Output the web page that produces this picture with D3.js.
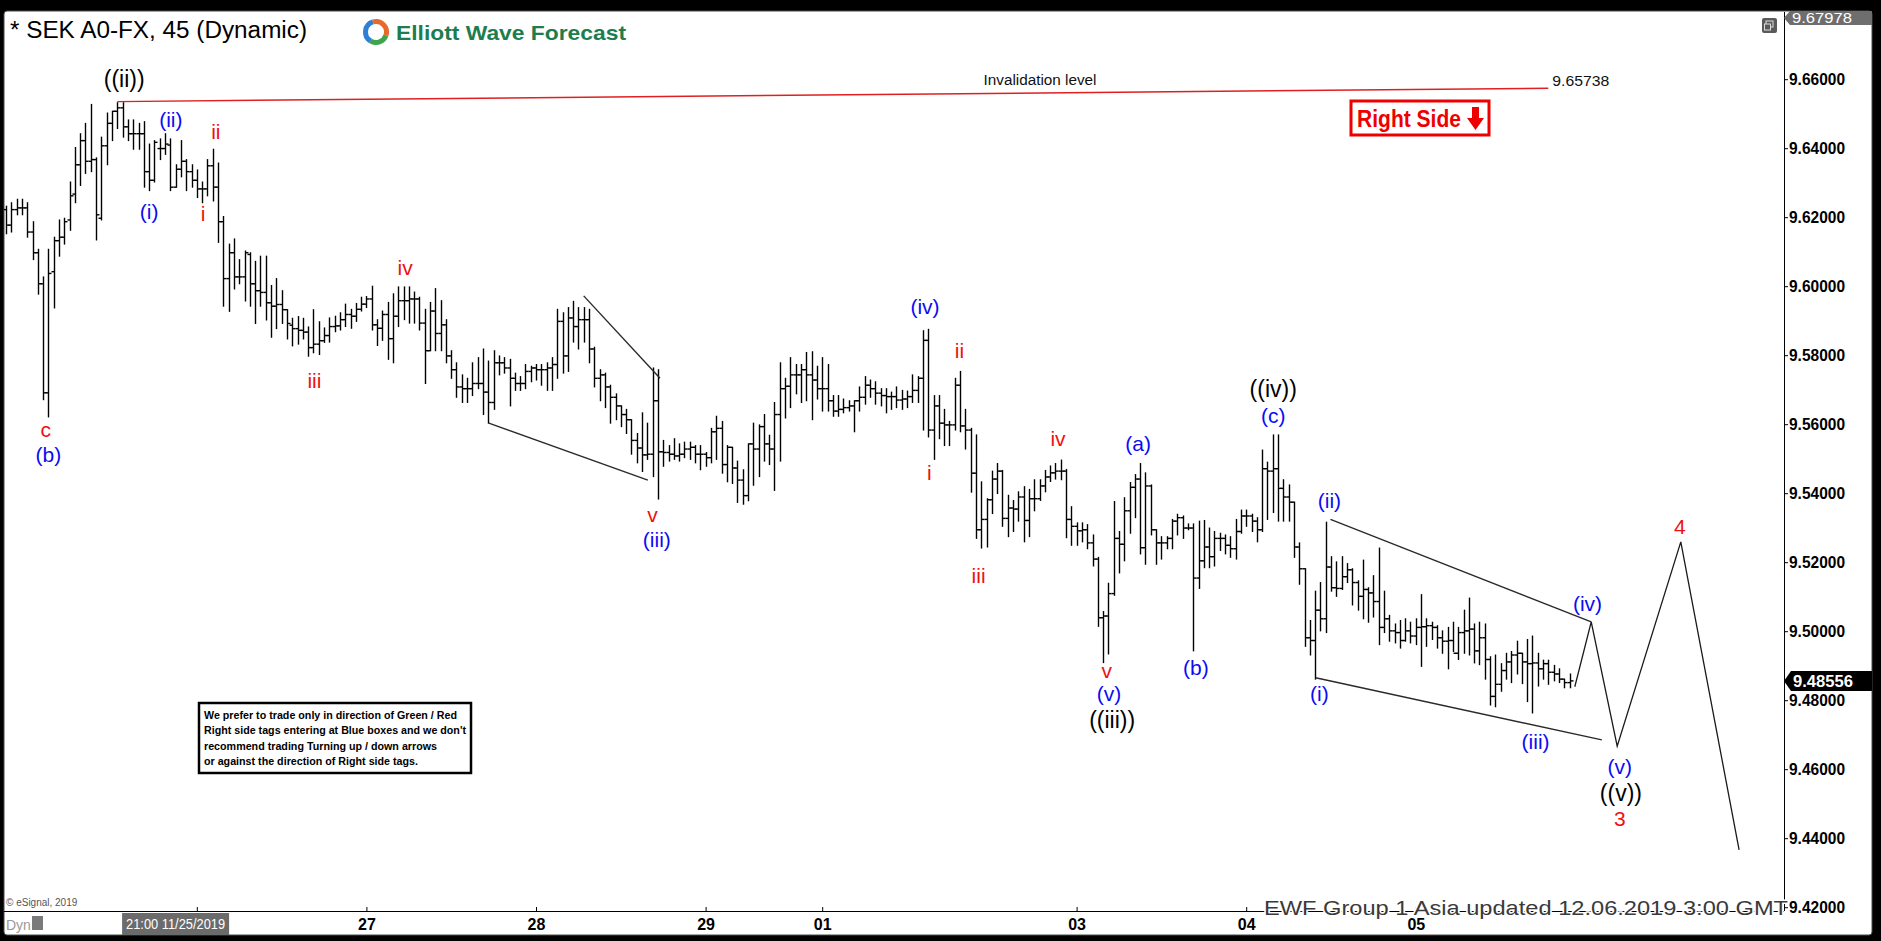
<!DOCTYPE html>
<html><head><meta charset="utf-8">
<script src="https://d3js.org/d3.v7.min.js"></script>
<style>html,body{margin:0;padding:0;background:#000;overflow:hidden}svg{display:block}</style>
</head><body>
<svg id="chart" width="1881" height="941"></svg>
<script>
// ---------- DATA (45-min OHLC bars, bar index 0..295) ----------
const highs = [
9.6232,9.6242,9.6252,9.6252,9.6242,9.6187,9.6107,9.6027,9.6107,9.6142,
9.6192,9.6197,9.6302,9.6402,9.6442,9.6472,9.6527,9.6372,9.6432,9.6502,
9.6507,9.6532,9.6532,9.6482,9.6482,9.6472,9.6477,9.6412,9.6422,9.6427,
9.6442,9.6427,9.6352,9.6422,9.6367,9.6352,9.6337,9.6302,9.6367,9.6397,
9.6357,9.6202,9.6122,9.6137,9.6077,9.6102,9.6097,9.6072,9.6087,9.6087,
9.6002,9.6022,9.5987,9.5932,9.5907,9.5912,9.5907,9.5882,9.5932,9.5897,
9.5879,9.5908,9.5913,9.5923,9.5948,9.5933,9.5950,9.5968,9.5970,9.6000,
9.5903,9.5928,9.5953,9.5978,9.5998,9.5998,9.5998,9.5983,9.5968,9.5933,
9.5953,9.5993,9.5958,9.5903,9.5813,9.5778,9.5743,9.5733,9.5778,9.5793,
9.5818,9.5783,9.5813,9.5798,9.5793,9.5788,9.5748,9.5738,9.5773,9.5768,
9.5773,9.5773,9.5778,9.5793,9.5933,9.5923,9.5938,9.5956,9.5938,9.5938,
9.5933,9.5823,9.5758,9.5748,9.5713,9.5688,9.5653,9.5643,9.5613,9.5573,
9.5633,9.5603,9.5763,9.5758,9.5553,9.5538,9.5558,9.5543,9.5548,9.5548,
9.5538,9.5538,9.5518,9.5588,9.5623,9.5608,9.5538,9.5533,9.5493,9.5468,
9.5543,9.5603,9.5598,9.5628,9.5568,9.5663,9.5778,9.5733,9.5793,9.5773,
9.5773,9.5808,9.5810,9.5768,9.5793,9.5773,9.5683,9.5683,9.5673,9.5668,
9.5668,9.5708,9.5738,9.5728,9.5723,9.5703,9.5703,9.5693,9.5708,9.5698,
9.5696,9.5743,9.5738,9.5871,9.5875,9.5683,9.5683,9.5643,9.5608,9.5733,
9.5753,9.5643,9.5588,9.5569,9.5433,9.5384,9.5464,9.5486,9.5466,9.5394,
9.5379,9.5404,9.5419,9.5411,9.5439,9.5439,9.5466,9.5479,9.5486,9.5496,
9.5469,9.5361,9.5314,9.5314,9.5309,9.5279,9.5214,9.5057,9.5139,9.5376,
9.5289,9.5387,9.5431,9.5454,9.5486,9.5459,9.5424,9.5294,9.5274,9.5274,
9.5324,9.5339,9.5334,9.5311,9.5311,9.5319,9.5321,9.5299,9.5289,9.5284,
9.5279,9.5274,9.5324,9.5351,9.5351,9.5339,9.5329,9.5525,9.5490,9.5569,
9.5569,9.5439,9.5424,9.5374,9.5256,9.5181,9.5031,9.5116,9.5141,9.5316,
9.5216,9.5201,9.5216,9.5196,9.5181,9.5146,9.5206,9.5126,9.5161,9.5241,
9.5116,9.5046,9.5021,9.5031,9.5036,9.5026,9.5036,9.5106,9.5036,9.5026,
9.5016,9.5001,9.5011,9.5026,9.5011,9.5061,9.5096,9.5021,9.5026,9.5021,
9.4926,9.4931,9.4906,9.4936,9.4941,9.4971,9.4936,9.4976,9.4986,9.4936,
9.4916,9.4916,9.4901,9.4891,9.4861,9.4876];
const lows = [
9.6152,9.6157,9.6207,9.6207,9.6142,9.6077,9.5977,9.5671,9.5621,9.5937,
9.6087,9.6122,9.6162,9.6242,9.6292,9.6327,9.6332,9.6134,9.6192,9.6352,
9.6422,9.6457,9.6432,9.6422,9.6397,9.6397,9.6287,9.6277,9.6302,9.6367,
9.6382,9.6277,9.6287,9.6317,9.6277,9.6287,9.6257,9.6242,9.6262,9.6247,
9.6127,9.5942,9.5927,9.5992,9.6007,9.5957,9.5942,9.5892,9.5942,9.5902,
9.5852,9.5877,9.5892,9.5847,9.5827,9.5832,9.5847,9.5797,9.5807,9.5802,
9.5837,9.5838,9.5868,9.5873,9.5883,9.5878,9.5898,9.5928,9.5938,9.5873,
9.5828,9.5843,9.5788,9.5778,9.5883,9.5903,9.5893,9.5893,9.5873,9.5718,
9.5813,9.5813,9.5813,9.5778,9.5733,9.5678,9.5663,9.5663,9.5683,9.5703,
9.5628,9.5603,9.5643,9.5743,9.5748,9.5653,9.5698,9.5698,9.5703,9.5723,
9.5728,9.5713,9.5698,9.5698,9.5733,9.5748,9.5753,9.5838,9.5818,9.5838,
9.5778,9.5708,9.5668,9.5648,9.5603,9.5613,9.5593,9.5573,9.5513,9.5488,
9.5463,9.5498,9.5448,9.5383,9.5478,9.5493,9.5498,9.5493,9.5503,9.5498,
9.5488,9.5468,9.5478,9.5488,9.5498,9.5458,9.5433,9.5428,9.5373,9.5368,
9.5378,9.5423,9.5448,9.5493,9.5483,9.5408,9.5493,9.5618,9.5648,9.5688,
9.5663,9.5668,9.5613,9.5673,9.5638,9.5638,9.5623,9.5623,9.5633,9.5638,
9.5578,9.5638,9.5658,9.5678,9.5658,9.5653,9.5633,9.5643,9.5648,9.5643,
9.5648,9.5663,9.5663,9.5583,9.5563,9.5498,9.5558,9.5538,9.5538,9.5583,
9.5578,9.5528,9.5403,9.5269,9.5241,9.5244,9.5341,9.5399,9.5304,9.5274,
9.5289,9.5319,9.5259,9.5274,9.5349,9.5379,9.5404,9.5434,9.5441,9.5439,
9.5271,9.5249,9.5249,9.5259,9.5239,9.5189,9.5014,9.4909,9.4934,9.5104,
9.5169,9.5204,9.5284,9.5329,9.5224,9.5194,9.5279,9.5194,9.5209,9.5239,
9.5239,9.5279,9.5269,9.5294,9.4943,9.5124,9.5184,9.5184,9.5189,9.5234,
9.5224,9.5214,9.5209,9.5284,9.5304,9.5289,9.5259,9.5289,9.5324,9.5344,
9.5319,9.5319,9.5319,9.5214,9.5136,9.4956,9.4931,9.4861,9.5001,9.4996,
9.5116,9.5101,9.5121,9.5141,9.5076,9.5061,9.5036,9.5026,9.5041,9.4961,
9.4996,9.4971,9.4966,9.4951,9.4971,9.4966,9.4961,9.4898,9.4956,9.4976,
9.4951,9.4936,9.4891,9.4941,9.4918,9.4936,9.4931,9.4908,9.4903,9.4861,
9.4786,9.4781,9.4826,9.4861,9.4851,9.4876,9.4848,9.4796,9.4763,9.4841,
9.4861,9.4846,9.4856,9.4851,9.4836,9.4836];
const opens = [
9.6222,9.6177,9.6222,9.6227,9.6227,9.6157,9.6097,9.6007,9.5691,9.6042,
9.6132,9.6142,9.6192,9.6267,9.6352,9.6422,9.6362,9.6367,9.6197,9.6407,
9.6472,9.6507,9.6517,9.6462,9.6442,9.6442,9.6442,9.6332,9.6307,9.6399,
9.6399,9.6409,9.6287,9.6339,9.6362,9.6332,9.6307,9.6282,9.6282,9.6349,
9.6287,9.6187,9.6022,9.6097,9.6027,9.6027,9.6092,9.6007,9.5987,9.5982,
9.5952,9.5942,9.5947,9.5932,9.5887,9.5877,9.5872,9.5867,9.5822,9.5832,
9.5842,9.5857,9.5883,9.5885,9.5903,9.5918,9.5913,9.5933,9.5948,9.5963,
9.5888,9.5878,9.5918,9.5848,9.5913,9.5958,9.5958,9.5963,9.5963,9.5893,
9.5813,9.5928,9.5863,9.5888,9.5798,9.5758,9.5708,9.5703,9.5703,9.5718,
9.5718,9.5693,9.5663,9.5778,9.5778,9.5763,9.5733,9.5718,9.5718,9.5753,
9.5763,9.5758,9.5758,9.5763,9.5773,9.5898,9.5798,9.5908,9.5883,9.5903,
9.5903,9.5818,9.5733,9.5743,9.5708,9.5678,9.5653,9.5628,9.5613,9.5553,
9.5531,9.5511,9.5513,9.5668,9.5520,9.5518,9.5513,9.5508,9.5513,9.5528,
9.5533,9.5513,9.5513,9.5503,9.5578,9.5588,9.5483,9.5533,9.5473,9.5438,
9.5393,9.5543,9.5528,9.5593,9.5543,9.5528,9.5628,9.5703,9.5710,9.5743,
9.5743,9.5758,9.5743,9.5728,9.5703,9.5703,9.5668,9.5638,9.5643,9.5648,
9.5653,9.5668,9.5678,9.5713,9.5703,9.5690,9.5683,9.5680,9.5680,9.5670,
9.5673,9.5680,9.5698,9.5733,9.5843,9.5583,9.5653,9.5603,9.5598,9.5598,
9.5713,9.5595,9.5583,9.5458,9.5294,9.5324,9.5381,9.5441,9.5464,9.5327,
9.5357,9.5354,9.5389,9.5321,9.5384,9.5384,9.5421,9.5447,9.5459,9.5464,
9.5464,9.5324,9.5304,9.5291,9.5294,9.5256,9.5209,9.5039,9.5044,9.5109,
9.5269,9.5252,9.5349,9.5417,9.5441,9.5242,9.5421,9.5294,9.5256,9.5256,
9.5269,9.5319,9.5329,9.5299,9.5299,9.5154,9.5204,9.5244,9.5216,9.5269,
9.5269,9.5249,9.5239,9.5289,9.5334,9.5334,9.5319,9.5294,9.5471,9.5464,
9.5471,9.5414,9.5389,9.5374,9.5244,9.5181,9.4981,9.4973,9.5061,9.5036,
9.5186,9.5126,9.5124,9.5158,9.5178,9.5141,9.5101,9.5121,9.5111,9.5086,
9.5011,9.5036,9.5001,9.4996,9.4973,9.5001,9.4986,9.5011,9.5013,9.5016,
9.5011,9.4981,9.4971,9.4973,9.4936,9.4996,9.5001,9.5006,9.4943,9.4981,
9.4918,9.4811,9.4846,9.4886,9.4911,9.4931,9.4936,9.4911,9.4906,9.4908,
9.4891,9.4906,9.4881,9.4876,9.4861,9.4851];
const closes = [
9.6177,9.6222,9.6227,9.6227,9.6157,9.6097,9.6007,9.5691,9.6037,9.6132,
9.6142,9.6187,9.6262,9.6352,9.6422,9.6362,9.6367,9.6207,9.6407,9.6472,
9.6507,9.6517,9.6462,9.6442,9.6442,9.6442,9.6332,9.6307,9.6417,9.6399,
9.6412,9.6287,9.6339,9.6362,9.6332,9.6307,9.6282,9.6282,9.6349,9.6287,
9.6187,9.6022,9.6097,9.6027,9.6027,9.6097,9.6007,9.5987,9.5982,9.5952,
9.5942,9.5947,9.5932,9.5892,9.5877,9.5872,9.5867,9.5822,9.5832,9.5842,
9.5857,9.5883,9.5885,9.5903,9.5918,9.5913,9.5933,9.5948,9.5963,9.5888,
9.5878,9.5918,9.5848,9.5913,9.5958,9.5958,9.5963,9.5963,9.5893,9.5813,
9.5928,9.5863,9.5888,9.5798,9.5758,9.5708,9.5703,9.5703,9.5718,9.5718,
9.5693,9.5663,9.5778,9.5778,9.5763,9.5733,9.5718,9.5718,9.5753,9.5763,
9.5758,9.5758,9.5763,9.5773,9.5898,9.5798,9.5908,9.5883,9.5903,9.5903,
9.5818,9.5733,9.5743,9.5708,9.5678,9.5653,9.5628,9.5613,9.5553,9.5531,
9.5511,9.5513,9.5668,9.5520,9.5518,9.5513,9.5508,9.5513,9.5528,9.5533,
9.5513,9.5513,9.5503,9.5578,9.5588,9.5483,9.5533,9.5473,9.5438,9.5393,
9.5543,9.5528,9.5593,9.5543,9.5528,9.5628,9.5703,9.5710,9.5743,9.5743,
9.5758,9.5743,9.5728,9.5703,9.5703,9.5668,9.5638,9.5643,9.5648,9.5653,
9.5668,9.5678,9.5713,9.5703,9.5690,9.5683,9.5680,9.5680,9.5670,9.5673,
9.5680,9.5698,9.5733,9.5843,9.5583,9.5653,9.5603,9.5598,9.5598,9.5713,
9.5595,9.5583,9.5458,9.5294,9.5324,9.5381,9.5441,9.5464,9.5327,9.5357,
9.5354,9.5389,9.5321,9.5384,9.5384,9.5421,9.5447,9.5459,9.5464,9.5464,
9.5324,9.5304,9.5291,9.5294,9.5256,9.5209,9.5039,9.5044,9.5109,9.5269,
9.5252,9.5349,9.5417,9.5441,9.5242,9.5421,9.5294,9.5256,9.5256,9.5269,
9.5319,9.5329,9.5299,9.5299,9.5154,9.5204,9.5244,9.5216,9.5269,9.5269,
9.5249,9.5239,9.5289,9.5334,9.5334,9.5319,9.5294,9.5471,9.5464,9.5471,
9.5414,9.5389,9.5374,9.5244,9.5181,9.4981,9.4973,9.5061,9.5036,9.5186,
9.5126,9.5124,9.5158,9.5178,9.5141,9.5101,9.5121,9.5111,9.5086,9.5011,
9.5036,9.5001,9.4996,9.4973,9.5001,9.4986,9.5011,9.5013,9.5016,9.5011,
9.4981,9.4971,9.4973,9.4936,9.4996,9.5001,9.5006,9.4943,9.4981,9.4918,
9.4811,9.4846,9.4886,9.4911,9.4931,9.4936,9.4911,9.4906,9.4908,9.4891,
9.4906,9.4881,9.4876,9.4861,9.4851,9.4856];

const priceTicks = [9.42,9.44,9.46,9.48,9.50,9.52,9.54,9.56,9.58,9.60,9.62,9.64,9.66];
const dayIdx = [36,68,100,132,154,202,234,266];
// the "26" label is hidden under the cursor date box in the reference
const dayLabels = ['','27','28','29','01','03','04','05'];
const cursorIdx = 32, cursorLabel = '21:00 11/25/2019';
const lastPrice = 9.48556, topPrice = 9.67978;

const invalidation = [[21,9.6535],[291,9.65738]];
const wedge1Upper = [[109,9.5972],[123.4,9.5733]];
const wedge1Lower = [[91.1,9.5603],[121.1,9.5438]];
const wedge2Upper = [[249.9,9.5324],[299.1,9.5027]];
const wedge2Lower = [[247.1,9.4865],[301.1,9.4685]];
const projection = [[296,9.4839],[299.1,9.5027],[304,9.4667],[316,9.5259],[327,9.4366]];

const waveText  = ['c','(b)','((ii))','(ii)','ii','(i)','i','iii','iv','v','(iii)','(iv)','ii','i','iii','iv','(a)','v','(v)','((iii))','(b)','((iv))','(c)','(ii)','(i)','(iii)','(iv)','(v)','((v))','3','4'];
const waveIdx   = [7.5,8.0,22.3,31.1,39.6,27.0,37.2,58.2,75.3,122.0,122.8,173.4,179.9,174.2,183.5,198.5,213.6,207.7,208.1,208.7,224.5,239.1,239.1,249.7,247.8,288.6,298.4,304.5,304.7,304.5,315.8];
const wavePrice = [9.5583,9.5511,9.6601,9.6482,9.6448,9.6216,9.6209,9.5726,9.6053,9.5337,9.5264,9.5941,9.5812,9.5461,9.5160,9.5559,9.5543,9.4885,9.4820,9.4743,9.4893,9.5701,9.5625,9.5378,9.4818,9.4680,9.5079,9.4607,9.4532,9.4458,9.5303];
const waveColor = ['r','b','k','b','r','b','r','r','r','r','b','b','r','r','r','r','b','r','b','k','b','k','b','b','b','b','b','b','k','r','r'];

const noteLines = ['We prefer to trade only in direction of Green / Red',
  "Right side tags entering at Blue boxes and we don't",
  'recommend trading Turning up / down arrows',
  'or against the direction of Right side tags.'];
const noteWidths = [253,262,233,214];

// ---------- LAYOUT ----------
const W = 1881, H = 941;
const plotL = 4, plotR = 1784, plotT = 12, plotB = 911;
const FONT = '"Liberation Sans", Arial, Helvetica, sans-serif';
const COL = {r:'#ee1111', b:'#0c0cf2', k:'#000000'};

const svg = d3.select('#chart').attr('font-family', FONT);
const x = d3.scaleLinear().domain([0, 100]).range([6, 536]);
const y = d3.scaleLinear().domain([9.42, 9.66]).range([907.2, 79.2]);

// frame
svg.append('rect').attr('width', W).attr('height', H).attr('fill', '#000');
svg.append('rect').attr('x', 4).attr('y', 11).attr('width', 1868).attr('height', 924)
  .attr('rx', 3).attr('fill', '#fff').attr('stroke', '#4a4a4a').attr('stroke-width', 1);

const defs = svg.append('defs');
defs.append('clipPath').attr('id', 'plotclip').append('rect')
  .attr('x', plotL).attr('y', plotT).attr('width', plotR - plotL).attr('height', plotB - plotT);

// title and logo
svg.append('text').attr('x', 10).attr('y', 38).attr('font-size', 23).attr('fill', '#000')
  .attr('textLength', 297).attr('lengthAdjust', 'spacingAndGlyphs').text('* SEK A0-FX, 45 (Dynamic)');
const logo = svg.append('g').attr('transform', 'translate(376,32)');
const arc = d3.arc().innerRadius(8).outerRadius(13);
[[-2.6, -0.3, '#2f7fd6'], [-0.3, 1.9, '#e86a2a'], [1.9, 3.7, '#3fa54a']].forEach(a => {
  logo.append('path').attr('d', arc({startAngle: a[0], endAngle: a[1]})).attr('fill', a[2]);
});
svg.append('text').attr('x', 396).attr('y', 40).attr('font-size', 21).attr('font-weight', 'bold')
  .attr('fill', '#1d7d4e').attr('textLength', 230).attr('lengthAdjust', 'spacingAndGlyphs')
  .text('Elliott Wave Forecast');

// small window icon top right
svg.append('rect').attr('x', 1762).attr('y', 18).attr('width', 15).attr('height', 15).attr('rx', 2).attr('fill', '#5a5a5a');
svg.append('rect').attr('x', 1766).attr('y', 21).attr('width', 7).attr('height', 6).attr('fill', 'none').attr('stroke', '#ddd');
svg.append('rect').attr('x', 1764.5).attr('y', 24).attr('width', 6).attr('height', 6).attr('fill', '#5a5a5a').attr('stroke', '#ddd');

// ---------- AXES ----------
const yAxis = d3.axisRight(y).tickValues(priceTicks).tickFormat(d3.format('.5f')).tickSize(4).tickPadding(1);
const gy = svg.append('g').attr('transform', `translate(${plotR},0)`).call(yAxis);
gy.select('.domain').remove();
gy.selectAll('.tick line').attr('stroke', '#000');
gy.selectAll('.tick text').attr('font-family', FONT).attr('font-size', 17).attr('font-weight', 'bold')
  .attr('fill', '#000').attr('textLength', 56).attr('lengthAdjust', 'spacingAndGlyphs');
svg.append('line').attr('x1', plotR + 0.5).attr('x2', plotR + 0.5).attr('y1', plotT).attr('y2', plotB)
  .attr('stroke', '#000').attr('stroke-width', 1);

const xAxis = d3.axisBottom(x).tickValues(dayIdx).tickFormat((d, i) => dayLabels[i]).tickSize(-4).tickPadding(8);
const gx = svg.append('g').attr('transform', `translate(0,${plotB})`).call(xAxis);
gx.select('.domain').remove();
gx.selectAll('.tick line').attr('stroke', '#000');
gx.selectAll('.tick text').attr('font-family', FONT).attr('font-size', 16).attr('font-weight', 'bold').attr('fill', '#000');
gx.selectAll('.tick text').filter(function () { return this.textContent === ''; }).remove();
svg.append('line').attr('x1', plotL).attr('x2', plotR).attr('y1', plotB + 0.5).attr('y2', plotB + 0.5)
  .attr('stroke', '#000').attr('stroke-width', 1.2);

// cursor date box
const cx = x(cursorIdx);
svg.append('rect').attr('x', cx - 53.5).attr('y', plotB + 2).attr('width', 107).attr('height', 22).attr('fill', '#6b6b6b');
svg.append('text').attr('x', cx).attr('y', plotB + 18).attr('text-anchor', 'middle').attr('font-size', 15)
  .attr('fill', '#fff').attr('textLength', 99).attr('lengthAdjust', 'spacingAndGlyphs').text(cursorLabel);

// Dyn & copyright
svg.append('text').attr('x', 6).attr('y', 930).attr('font-size', 14).attr('fill', '#9a9a9a').text('Dyn');
svg.append('rect').attr('x', 32).attr('y', 916).attr('width', 11).attr('height', 14).attr('fill', '#7a7a7a');
svg.append('text').attr('x', 6).attr('y', 906).attr('font-size', 10).attr('fill', '#555').text('\u00a9 eSignal, 2019');

// top price label
svg.append('polygon').attr('points', `${plotR},18 ${plotR + 6},11 1872,11 1872,25 ${plotR + 6},25`).attr('fill', '#6e6e6e');
svg.append('text').attr('x', plotR + 8).attr('y', 23).attr('font-size', 15).attr('fill', '#fff')
  .attr('textLength', 60).attr('lengthAdjust', 'spacingAndGlyphs').text(topPrice.toFixed(5));

// ---------- BARS ----------
const plot = svg.append('g').attr('clip-path', 'url(#plotclip)');
const bars = plot.append('g').attr('stroke', '#000').attr('stroke-width', 1.4);
highs.forEach((h, i) => {
  const xi = Math.round(x(i)) + 0.5;
  bars.append('line').attr('x1', xi).attr('x2', xi).attr('y1', y(h) - 0.5).attr('y2', y(lows[i]) + 0.5);
  bars.append('line').attr('x1', xi - 3).attr('x2', xi).attr('y1', y(opens[i])).attr('y2', y(opens[i]));
  bars.append('line').attr('x1', xi).attr('x2', xi + 3).attr('y1', y(closes[i])).attr('y2', y(closes[i]));
});

// ---------- ANNOTATION LINES ----------
const line = d3.line().x(d => x(d[0])).y(d => y(d[1]));
plot.append('path').attr('d', line(invalidation)).attr('fill', 'none').attr('stroke', '#e02020').attr('stroke-width', 1.5);
[wedge1Upper, wedge1Lower, wedge2Upper, wedge2Lower].forEach(w => {
  plot.append('path').attr('d', line(w)).attr('fill', 'none').attr('stroke', '#2a2a2a').attr('stroke-width', 1.4);
});
plot.append('path').attr('d', line(projection)).attr('fill', 'none').attr('stroke', '#1a1a1a').attr('stroke-width', 1.3);

// invalidation texts
const invEnd = invalidation[1];
svg.append('text').attr('x', x(195.1)).attr('y', y(invEnd[1]) - 3).attr('text-anchor', 'middle')
  .attr('font-size', 14).attr('fill', '#111').attr('textLength', 113).attr('lengthAdjust', 'spacingAndGlyphs')
  .text('Invalidation level');
svg.append('text').attr('x', x(invEnd[0]) + 4).attr('y', y(invEnd[1]) - 2).attr('font-size', 15).attr('fill', '#111')
  .attr('textLength', 57).attr('lengthAdjust', 'spacingAndGlyphs').text(invEnd[1].toFixed(5));

// ---------- WAVE LABELS ----------
waveText.forEach((t, i) => {
  svg.append('text').attr('x', x(waveIdx[i])).attr('y', y(wavePrice[i])).attr('dy', '0.35em')
    .attr('text-anchor', 'middle').attr('font-size', waveColor[i] === 'k' ? 23 : 21)
    .attr('fill', COL[waveColor[i]]).text(t);
});

// ---------- RIGHT SIDE TAG ----------
svg.append('rect').attr('x', 1351).attr('y', 101).attr('width', 138).attr('height', 34)
  .attr('fill', '#fff').attr('stroke', '#ee0000').attr('stroke-width', 3);
svg.append('text').attr('x', 1357).attr('y', 127).attr('font-size', 23).attr('font-weight', 'bold')
  .attr('fill', '#ee0000').attr('textLength', 104).attr('lengthAdjust', 'spacingAndGlyphs').text('Right Side');
svg.append('path').attr('d', 'M1472,107 h7 v11 h5 l-8.5,12 l-8.5,-12 h5 z').attr('fill', '#ee0000');

// ---------- NOTE BOX ----------
svg.append('rect').attr('x', 199).attr('y', 703).attr('width', 272).attr('height', 70)
  .attr('fill', '#fff').attr('stroke', '#000').attr('stroke-width', 2.5);
noteLines.forEach((t, i) => {
  svg.append('text').attr('x', 204).attr('y', 719 + i * 15.3).attr('font-size', 11.5).attr('font-weight', 'bold')
    .attr('fill', '#000').attr('textLength', noteWidths[i]).attr('lengthAdjust', 'spacingAndGlyphs').text(t);
});

// ---------- LAST PRICE LABEL ----------
const ly = y(lastPrice);
svg.append('polygon').attr('points', `${plotR},${ly} ${plotR + 7},${ly - 10} 1872,${ly - 10} 1872,${ly + 10} ${plotR + 7},${ly + 10}`).attr('fill', '#000');
svg.append('text').attr('x', plotR + 9).attr('y', ly + 6).attr('font-size', 17).attr('font-weight', 'bold')
  .attr('fill', '#fff').attr('textLength', 60).attr('lengthAdjust', 'spacingAndGlyphs').text(lastPrice.toFixed(5));

// ---------- FOOTER STAMP ----------
svg.append('text').attr('x', 1264).attr('y', 915).attr('font-size', 21).attr('fill', '#3a3a3a')
  .attr('stroke', '#fff').attr('stroke-width', 3).attr('paint-order', 'stroke').attr('stroke-linejoin', 'round')
  .attr('textLength', 524).attr('lengthAdjust', 'spacingAndGlyphs')
  .text('EWF Group  1 Asia  updated 12.06.2019 3:00 GMT');
</script>
</body></html>
